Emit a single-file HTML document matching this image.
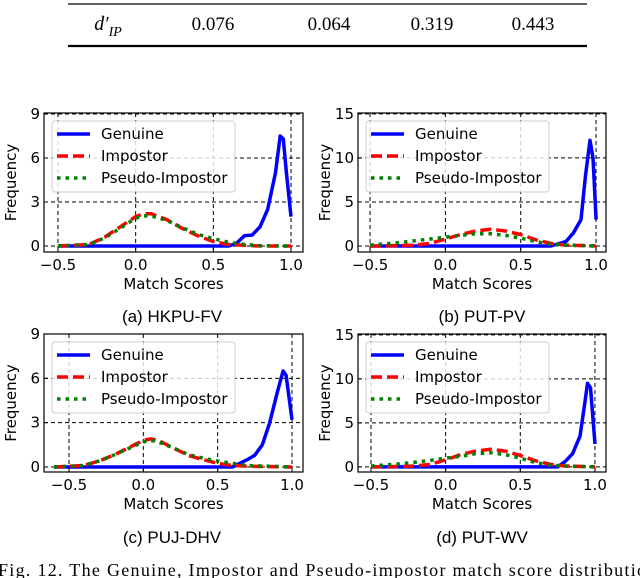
<!DOCTYPE html>
<html><head><meta charset="utf-8"><style>
body{margin:0;background:#fff;width:640px;height:578px;overflow:hidden;position:relative}
svg{position:absolute;left:0;top:0}
</style></head><body>
<svg id="s" width="640" height="578" xmlns="http://www.w3.org/2000/svg" font-family="DejaVu Sans, Liberation Sans, sans-serif">
<g>
<line x1="68" y1="4" x2="587" y2="4" stroke="#000" stroke-width="1.2"/>
<text x="108" y="30" font-family="Liberation Serif, serif" font-size="20" font-style="italic" text-anchor="middle">d′<tspan font-size="14" dy="6">IP</tspan></text>
<text x="213" y="30" font-family="Liberation Serif, serif" font-size="19" text-anchor="middle">0.076</text>
<text x="329" y="30" font-family="Liberation Serif, serif" font-size="19" text-anchor="middle">0.064</text>
<text x="432" y="30" font-family="Liberation Serif, serif" font-size="19" text-anchor="middle">0.319</text>
<text x="533" y="30" font-family="Liberation Serif, serif" font-size="19" text-anchor="middle">0.443</text>
<line x1="68" y1="46" x2="587" y2="46" stroke="#000" stroke-width="2.2"/>
</g>
<text x="-2" y="576" font-family="Liberation Serif, serif" font-size="18" textLength="648" lengthAdjust="spacing">Fig. 12.  The Genuine, Impostor and Pseudo-impostor match score distributio</text>
</svg>
<script>
const NS="http://www.w3.org/2000/svg";
const svg=document.getElementById('s');
// ---- data ----
const titles=["(a) HKPU-FV","(b) PUT-PV","(c) PUJ-DHV","(d) PUT-WV"];
const yTicksA=[0,3,6,9], yTicksB=[0,5,10,15];
const xTicks=[-0.5,0,0.5,1.0];
const xTickLabels=["\u22120.5","0.0","0.5","1.0"];
const genA_x=[-0.5,0.6,0.65,0.7,0.75,0.8,0.85,0.9,0.93,0.95,0.97,1.0];
const genA_y=[0,0,0.2,0.7,0.75,1.3,2.5,5,7.5,7.3,5,2];
const impA_x=[-0.5,-0.3,-0.2,-0.1,0,0.05,0.1,0.2,0.3,0.4,0.5,0.6,0.7,0.8,1.0];
const impA_y=[0,0.1,0.6,1.3,2.0,2.2,2.2,1.8,1.2,0.7,0.3,0.1,0.05,0,0];
const psA_y=[0,0.1,0.55,1.2,1.9,2.05,2.05,1.75,1.25,0.8,0.5,0.25,0.1,0.02,0];
const genB_x=[-0.5,0.7,0.8,0.85,0.9,0.93,0.96,0.98,1.0];
const genB_y=[0,0,0.5,1.5,3,8,12,10,3];
const impB_x=[-0.5,-0.3,-0.2,-0.1,0,0.1,0.2,0.3,0.4,0.5,0.6,0.7,0.8,1.0];
const impB_y=[0,0.05,0.1,0.3,0.8,1.3,1.7,1.9,1.7,1.3,0.7,0.3,0.1,0];
const psB_y=[0.1,0.4,0.6,0.8,1.0,1.2,1.4,1.4,1.2,0.9,0.5,0.2,0.1,0];
const genC_x=[-0.6,0.6,0.7,0.75,0.8,0.85,0.9,0.94,0.96,1.0];
const genC_y=[0,0,0.5,0.8,1.5,3,5,6.5,6.2,3.2];
const impC_x=[-0.6,-0.4,-0.3,-0.2,-0.1,0,0.05,0.1,0.2,0.3,0.4,0.5,0.6,0.7,1.0];
const impC_y=[0,0.1,0.4,0.8,1.3,1.8,1.9,1.8,1.3,0.8,0.5,0.25,0.1,0.05,0];
const psC_y=[0,0.1,0.4,0.8,1.25,1.7,1.8,1.7,1.3,0.85,0.6,0.4,0.25,0.1,0];
const genD_x=[-0.5,0.75,0.8,0.85,0.9,0.93,0.95,0.97,1.0];
const genD_y=[0,0,0.6,1.5,3.5,7,9.5,9,2.6];
const impD_y=[0,0.05,0.1,0.3,0.8,1.4,1.8,2.0,1.8,1.3,0.7,0.3,0.1,0];
const psD_y=[0.1,0.35,0.55,0.75,1.0,1.2,1.5,1.6,1.4,1.0,0.5,0.2,0.1,0];
// ---- layout ----
const panels=[
 {L:44,R:303,T:113,B:252,x0:-0.59,x1:1.077,y0:-0.41,y1:9.07,yt:yTicksA,g:[genA_x,genA_y],i:[impA_x,impA_y],p:[impA_x,psA_y],cx:172,cy:322},
 {L:358,R:606,T:113,B:252,x0:-0.58,x1:1.066,y0:-0.68,y1:15.1,yt:yTicksB,g:[genB_x,genB_y],i:[impB_x,impB_y],p:[impB_x,psB_y],cx:482,cy:322},
 {L:44,R:303,T:334,B:472,x0:-0.668,x1:1.074,y0:-0.34,y1:9.0,yt:yTicksA,g:[genC_x,genC_y],i:[impC_x,impC_y],p:[impC_x,psC_y],cx:172,cy:543},
 {L:358,R:606,T:334,B:472,x0:-0.587,x1:1.074,y0:-0.58,y1:15.1,yt:yTicksB,g:[genD_x,genD_y],i:[impB_x,impD_y],p:[impB_x,psD_y],cx:482,cy:543}
];
function mk(tag,attrs,parent){const e=document.createElementNS(NS,tag);for(const k in attrs)e.setAttribute(k,attrs[k]);(parent||svg).appendChild(e);return e;}
panels.forEach((P,pi)=>{
 const sx=v=>P.L+(v-P.x0)/(P.x1-P.x0)*(P.R-P.L);
 const sy=v=>P.B-(v-P.y0)/(P.y1-P.y0)*(P.B-P.T);
 const g=mk('g',{});
 
 
 xTicks.forEach((t,k)=>{
  const l=mk('line',{x1:sx(t),x2:sx(t),y1:P.T,y2:P.B,stroke:'#000','stroke-width':1,'stroke-dasharray':'4,3'},g);
  
  
  mk('line',{x1:sx(t),x2:sx(t),y1:P.B,y2:P.B-4,stroke:'#000'},g);
  const tx=mk('text',{x:sx(t),y:P.B+18,'font-size':15,'text-anchor':'middle'},g);tx.textContent=xTickLabels[k];
  
  
 });
 P.yt.forEach(t=>{
  const l=mk('line',{x1:P.L,x2:P.R,y1:sy(t),y2:sy(t),stroke:'#000','stroke-width':1,'stroke-dasharray':'4,3'},g);
  
  
  mk('line',{x1:P.L,x2:P.L+4,y1:sy(t),y2:sy(t),stroke:'#000'},g);
  const tx=mk('text',{x:P.L-4,y:sy(t)+5,'font-size':15,'text-anchor':'end'},g);tx.textContent=t;
  
  
 });
 const line=(d,st)=>{const pts=d[0].map((x,k)=>sx(x).toFixed(1)+','+sy(d[1][k]).toFixed(1)).join(' ');return mk('polyline',Object.assign({points:pts,fill:'none'},st),g);};
 const gl=line(P.g,{stroke:'#0000ff','stroke-width':3.5,'stroke-linejoin':'round'});
 
 
 const il=line(P.i,{stroke:'#ff0000','stroke-width':3.5,'stroke-dasharray':'11,5'});
 
 
 const pl=line(P.p,{stroke:'#008000','stroke-width':3.5,'stroke-dasharray':'3.5,5'});
 
 
 mk('rect',{x:P.L,y:P.T,width:P.R-P.L,height:P.B-P.T,fill:'none',stroke:'#000','stroke-width':1.2},g);
 const lg=mk('g',{},g);
 
 
 const lx=P.L+8;
 mk('rect',{x:lx,y:P.T+8,width:183,height:71,rx:3,fill:'rgba(255,255,255,0.8)',stroke:'#ccc'},lg);
 [['Genuine',{stroke:'#0000ff'}],['Impostor',{stroke:'#ff0000','stroke-dasharray':'11,5'}],['Pseudo-Impostor',{stroke:'#008000','stroke-dasharray':'3.5,5'}]].forEach((e,k)=>{
  const yy=P.T+21+k*22;
  mk('line',Object.assign({x1:lx+5,x2:lx+38,y1:yy,y2:yy,'stroke-width':3.5},e[1]),lg);
  const t=mk('text',{x:lx+49,y:yy+5,'font-size':15},lg);t.textContent=e[0];
  
  
 });
 const xl=mk('text',{x:(P.L+P.R)/2,y:P.B+37,'font-size':15,'text-anchor':'middle'},g);xl.textContent='Match Scores';
 
 
 const yx=P.L-28,yy=(P.T+P.B)/2;
 const yl=mk('text',{x:yx,y:yy,'font-size':15,'text-anchor':'middle',transform:`rotate(-90 ${yx} ${yy})`},g);yl.textContent='Frequency';
 
 
 const ct=mk('text',{x:P.cx,y:P.cy,'font-size':17,'text-anchor':'middle','font-family':'Liberation Sans, sans-serif'},g);ct.textContent=titles[pi];
 
 
});
</script>
</body></html>
